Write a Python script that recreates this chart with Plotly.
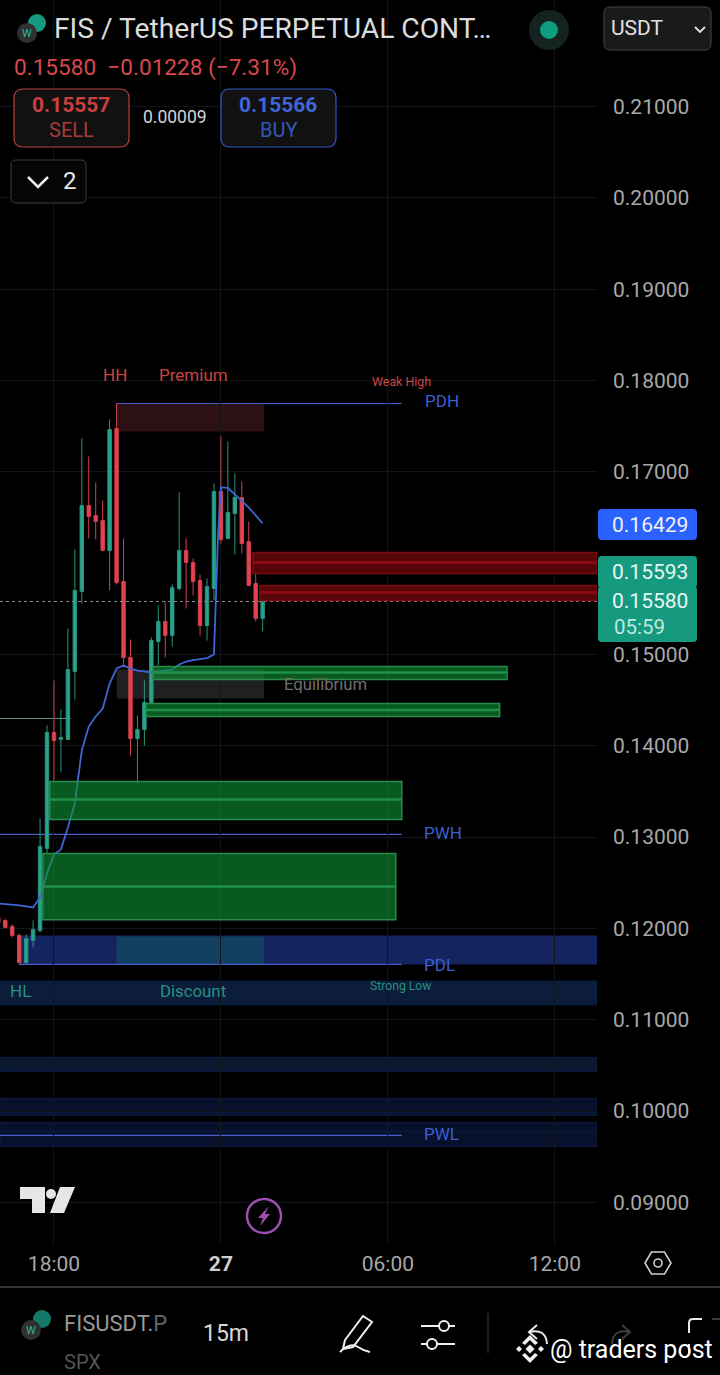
import pandas as pd
import plotly.graph_objects as go

W = 720
H = 1375

# 15m candles, 26th 16:00 to 27th 01:30
candle_times = pd.date_range("2025-01-26 16:00", "2025-01-27 01:30", freq="15min")
opens = [.12121, .12088, .12022, .11923, .11627, .11869, .11978, .12876, .14146, .14069, .14069, .14814,
         .15690, .16631, .16522, .16467, .16139, .17474, .15799, .14967, .14080, .14178, .14474, .15142,
         .15361, .15208, .15722, .16139, .16007, .15810, .15317, .15722, .16785, .16270, .16544, .16719,
         .16237, .15777, .15394]
highs = [.12143, .12099, .12044, .11945, .11934, .12088, .13205, .14222, .14715, .14397, .15284, .16149,
         .17365, .17168, .16883, .16686, .17573, .17748, .16270, .15164, .14332, .14715, .15186, .15536,
         .15580, .15766, .16774, .16270, .16051, .15876, .15832, .16872, .17387, .17332, .16982, .16894,
         .16456, .15887, .15591]
lows = [.12044, .12000, .11902, .11606, .11616, .11792, .11956, .12821, .13621, .13708, .14064, .14507,
        .15558, .16270, .16259, .16128, .15701, .15766, .14857, .13894, .13588, .14003, .14463, .14879,
        .14967, .15087, .15701, .15503, .15646, .15208, .15153, .15591, .16215, .16270, .16095, .16106,
        .15755, .15361, .15252]
closes = [.12066, .12011, .11923, .11627, .11890, .11989, .12898, .14146, .14058, .14091, .14835, .15701,
          .16631, .16511, .16456, .16139, .17463, .15788, .14967, .14080, .14178, .14474, .15153, .15361,
          .15208, .15733, .16139, .16007, .15799, .15317, .15744, .16785, .16259, .16555, .16719, .16215,
          .15755, .15394, .15591]

ma_times = list(candle_times[:32]) + [pd.Timestamp("2025-01-26 23:49"), pd.Timestamp("2025-01-26 23:54")] + list(candle_times[32:])
ma_values = [.12274, .12268, .12263, .12252, .12241, .12230, .12340, .12603, .12811, .12866, .13106, .13369,
             .13949, .14211, .14321, .14408, .14682, .14846, .14879, .14846, .14824, .14814, .14803, .14814,
             .14824, .14835, .14890, .14923, .14939, .14950, .14961, .15000, .15591, .16325, .16829, .16823,
             .16752, .16686, .16610, .16522, .16434]

axis_start = "2025-01-26 16:03:36"
axis_end = "2025-01-27 13:31"
y_ticks = [.09, .10, .11, .12, .13, .14, .15, .17, .18, .19, .20, .21]
x_ticks = ["2025-01-26 18:00", "2025-01-27 00:00", "2025-01-27 06:00", "2025-01-27 12:00"]
x_labels = ["18:00", '<span style="color:#d0d0d0"><b>27</b></span>', "06:00", "12:00"]
last_price = .15580

# supply zones
supply_starts = ["2025-01-27 01:09", "2025-01-27 01:24"]
supply_tops = [.16117, .15755]
supply_mids = [.16007, .15679]
supply_bottoms = [.15887, .15591]

# demand zones
demand_starts = ["2025-01-26 17:51", "2025-01-26 17:36", "2025-01-26 21:33", "2025-01-26 21:18"]
demand_ends = ["2025-01-27 06:30", "2025-01-27 06:17", "2025-01-27 10:17", "2025-01-27 10:01"]
demand_tops = [.13610, .12821, .14868, .14463]
demand_mids = [.13413, .12460, .14803, .14392]
demand_bottoms = [.13194, .12094, .14726, .14321]

# blue bands under the price
band_tops = [.10588, .10139, .09876]
band_bottoms = [.10434, .09953, .09613]
band_colors = ["#09172f", "#07112c", "#07112c"]

levels = [.17748, .13030, .11606, .09734]
level_starts = ["2025-01-26 20:15", axis_start, "2025-01-26 16:45", axis_start]
level_end = "2025-01-27 06:30"


def px(x):
    return x / W


def py(y):
    return 1 - y / H


def path(points, close=True):
    s = "M " + " L ".join(f"{px(a):.5f},{py(b):.5f}" for a, b in points)
    return s + " Z" if close else s


def rounded(x0, y0, x1, y1, r):
    c = lambda a, b: f"{px(a):.5f},{py(b):.5f}"
    return (f"M {c(x0 + r, y0)} L {c(x1 - r, y0)} Q {c(x1, y0)} {c(x1, y0 + r)} L {c(x1, y1 - r)} "
            f"Q {c(x1, y1)} {c(x1 - r, y1)} L {c(x0 + r, y1)} Q {c(x0, y1)} {c(x0, y1 - r)} "
            f"L {c(x0, y0 + r)} Q {c(x0, y0)} {c(x0 + r, y0)} Z")


fig = go.Figure()

fig.add_trace(go.Candlestick(x=candle_times, open=opens, high=highs, low=lows, close=closes,
                             increasing=dict(line=dict(color="#2a957f", width=1), fillcolor="#26a48c"),
                             decreasing=dict(line=dict(color="#cf424e", width=1), fillcolor="#e8414f"),
                             whiskerwidth=0, showlegend=False))
fig.add_trace(go.Scatter(x=ma_times, y=ma_values, mode="lines", line=dict(color="#3f66d6", width=1.8), showlegend=False))


def box(x0, x1, top, bottom, fill, line=None, width=0, layer="below"):
    fig.add_shape(type="rect", xref="x", yref="y", x0=x0, x1=x1, y0=bottom, y1=top, fillcolor=fill,
                  line=dict(color=line or fill, width=width), layer=layer)


def hline(x0, x1, y, color, width=1, dash="solid", layer="below"):
    fig.add_shape(type="line", xref="x", yref="y", x0=x0, x1=x1, y0=y, y1=y,
                  line=dict(color=color, width=width, dash=dash), layer=layer)


# bands
box("2025-01-26 16:45", axis_end, .11923, .11606, "#14245e")
box("2025-01-26 20:15", "2025-01-27 01:33", .11912, .11606, "#124060")
box(axis_start, axis_end, .11431, .11157, "#0b1d3a")
for top, bottom, color in zip(band_tops, band_bottoms, band_colors):
    box(axis_start, axis_end, top, bottom, color, "#0e1c46", 1)
hline(axis_start, axis_end, .09980, "#0e1c46")
hline(axis_start, axis_end, .09778, "#0e1c46")

box("2025-01-26 20:15", "2025-01-27 01:33", .17748, .17442, "#2d1013")
box("2025-01-26 20:15", "2025-01-27 01:33", .14835, .14518, "#202022")

hline(axis_start, "2025-01-26 18:36", .14299, "#5f8f80")
for start, y in zip(level_starts, levels):
    hline(start, level_end, y, "#4a5fc8", 1.2)
hline(axis_start, axis_end, last_price, "#8c8c8c", 1, "dot", "above")

for i in range(len(demand_tops)):
    box(demand_starts[i], demand_ends[i], demand_tops[i], demand_bottoms[i], "rgba(14,150,55,0.6)", "#2c8a4c", 1.5, "above")
    hline(demand_starts[i], demand_ends[i], demand_mids[i], "#1f9048", 2.5, layer="above")
for i in range(len(supply_tops)):
    box(supply_starts[i], axis_end, supply_tops[i], supply_bottoms[i], "#560608", "#7a0a10", 1.5, "above")
    hline(supply_starts[i], axis_end, supply_mids[i], "#8a0a12", 3, layer="above")


def note(x, y, text, size, color):
    fig.add_annotation(x=x, y=y, xref="x", yref="y", text=text, showarrow=False, font=dict(size=size, color=color))


note("2025-01-26 20:12", .18055, "HH", 17, "#cc4440")
note("2025-01-26 23:00", .18055, "Premium", 17, "#cc4440")
note("2025-01-27 06:30", .17989, "Weak High", 12.4, "#cc4440")
note("2025-01-27 07:56", .17770, "PDH", 17, "#3c5fd1")
note("2025-01-27 03:46", .14671, "Equilibrium", 16.7, "#6f6f6f")
note("2025-01-27 07:59", .13041, "PWH", 17, "#3c5fd1")
note("2025-01-27 07:52", .11595, "PDL", 17, "#3c5fd1")
note("2025-01-26 16:47", .11311, "HL", 17, "#2a8f7f")
note("2025-01-26 23:00", .11311, "Discount", 16.8, "#2a8f7f")
note("2025-01-27 06:28", .11366, "Strong Low", 12.2, "#2a8f7f")
note("2025-01-27 07:56", .09745, "PWL", 17, "#3c5fd1")


# everything below here is app chrome, placed in window pixels
def label(x, y, text, size, color, anchor="left"):
    fig.add_annotation(x=px(x), y=py(y), xref="paper", yref="paper", text=text, showarrow=False, xanchor=anchor,
                       yanchor="middle", font=dict(size=size, color=color), borderpad=0)


def shape_path(d, fill="rgba(0,0,0,0)", line="rgba(0,0,0,0)", width=1):
    fig.add_shape(type="path", xref="paper", yref="paper", path=d, fillcolor=fill, line=dict(color=line, width=width), layer="above")


def circle(x, y, r, fill="rgba(0,0,0,0)", line="rgba(0,0,0,0)", width=1):
    fig.add_shape(type="circle", xref="paper", yref="paper", x0=px(x - r), x1=px(x + r), y0=py(y + r), y1=py(y - r),
                  fillcolor=fill, line=dict(color=line, width=width), layer="above")


# header
circle(37, 23, 9, "#159a80")
circle(27, 33, 10, "#2e3130")
label(27, 33, "W", 11, "#2fb79f", "center")
label(53, 29, "FIS / TetherUS PERPETUAL CONT…", 28.2, "#dcdcdc")
label(13, 67, "0.15580  −0.01228 (−7.31%)", 22.6, "#d9474c")
shape_path(rounded(14, 89, 129, 147, 9), "#111111", "#b5403f", 1.2)
label(71, 105, "<b>0.15557</b>", 21, "#c8403f", "center")
label(71, 130, "SELL", 20, "#a83a38", "center")
label(175, 117, "0.00009", 17.5, "#d5d5d5", "center")
shape_path(rounded(221, 89, 336, 147, 9), "#111111", "#3159c8", 1.2)
label(278, 105, "<b>0.15566</b>", 21, "#3f66d6", "center")
label(278, 130, "BUY", 20, "#3159b8", "center")
shape_path(rounded(11, 160, 86, 203, 5), "#060606", "#3c3c3c", 1)
shape_path(path([(28, 177), (38, 187), (48, 177)], False), line="#f0f0f0", width=2.5)
label(70, 181, "2", 24, "#e8e8e8", "center")
circle(549, 30, 20, "#14231f")
circle(549, 30, 9, "#0f9d82")
shape_path(rounded(604, 7, 711, 50, 6), "#1a1a1a", "#444444", 1)
label(610, 28, "USDT", 21, "#e0e0e0")
shape_path(path([(695, 27), (700, 32), (705, 27)], False), line="#e0e0e0", width=1.8)

# price tags
shape_path(rounded(598, 509, 697, 540, 4), "#2962ff")
label(689, 525, "0.16429", 21, "#f2f2f2", "right")
shape_path(rounded(598, 556, 697, 588, 4), "#159a80")
shape_path(rounded(598, 586, 697, 642, 4), "#159a80")
label(689, 572, "0.15593", 21, "#e8f6f2", "right")
label(689, 601, "0.15580", 21, "#e8f6f2", "right")
label(613, 627, "05:59", 20.5, "#bfe9de")

# tradingview logo
shape_path(path([(20, 1187), (45, 1187), (45, 1213), (32, 1213), (32, 1199), (20, 1199)]), "#e6e6e6")
circle(51, 1194, 5, "#e6e6e6")
shape_path(path([(60, 1187), (75, 1187), (64, 1213), (50, 1213)]), "#e6e6e6")

# lightning badge
circle(264, 1216, 17, line="#9b4fb0", width=2.5)
shape_path(path([(269, 1206), (258, 1218), (263, 1218), (260, 1226), (270, 1214), (265, 1214)]), "#9b4fb0")

# settings hexagon
shape_path(path([(645, 1263), (651.5, 1252), (664.5, 1252), (671, 1263), (664.5, 1274), (651.5, 1274)]), line="#cfcfcf", width=1.6)
circle(658, 1263, 4, line="#cfcfcf", width=1.6)

# bottom bar
shape_path(path([(0, 1287), (720, 1287)], False), line="#333333", width=2)
circle(42, 1319, 9, "#137a68")
circle(31, 1330, 10, "#2e3130")
label(31, 1330, "W", 11, "#2fb79f", "center")
label(63, 1323, 'FISUSDT.<span style="color:#666666">P</span>', 22, "#9a9a9a")
label(63, 1362, "SPX", 20, "#555555")
label(226, 1333, "15m", 23, "#d8d8d8", "center")

shape_path(path([(345, 1340), (363, 1316), (372, 1322), (353, 1347), (343, 1349)]), line="#f0f0f0", width=2)
fig.add_shape(type="path", xref="paper", yref="paper", layer="above", line=dict(color="#f0f0f0", width=2),
              path=f"M {px(340)},{py(1352)} Q {px(350)},{py(1342)} {px(358)},{py(1347)} Q {px(364)},{py(1351)} {px(370)},{py(1352)}")
shape_path(path([(421, 1326), (439, 1326)], False), line="#f0f0f0", width=2)
shape_path(path([(449, 1326), (455, 1326)], False), line="#f0f0f0", width=2)
circle(444, 1326, 5, line="#f0f0f0", width=2)
shape_path(path([(421, 1344), (427, 1344)], False), line="#f0f0f0", width=2)
shape_path(path([(437, 1344), (455, 1344)], False), line="#f0f0f0", width=2)
circle(432, 1344, 5, line="#f0f0f0", width=2)
shape_path(path([(488, 1313), (488, 1353)], False), line="#2a2a2a", width=1.5)

# undo / redo / fullscreen
fig.add_shape(type="path", xref="paper", yref="paper", layer="above", line=dict(color="#e8e8e8", width=2),
              path=f"M {px(537)},{py(1325)} L {px(529)},{py(1332)} L {px(537)},{py(1339)} M {px(529)},{py(1332)} Q {px(546)},{py(1328)} {px(547)},{py(1344)}")
fig.add_shape(type="path", xref="paper", yref="paper", layer="above", line=dict(color="#3c3c3c", width=2),
              path=f"M {px(622)},{py(1325)} L {px(630)},{py(1332)} L {px(622)},{py(1339)} M {px(630)},{py(1332)} Q {px(613)},{py(1328)} {px(612)},{py(1344)}")
fig.add_shape(type="path", xref="paper", yref="paper", layer="above", line=dict(color="#e8e8e8", width=2),
              path=f"M {px(689)},{py(1333)} L {px(689)},{py(1323)} Q {px(689)},{py(1319)} {px(693)},{py(1319)} L {px(702)},{py(1319)} M {px(689)},{py(1344)} L {px(689)},{py(1353)}")
shape_path(path([(712, 1319), (720, 1319)], False), line="#3c3c3c", width=2)

# binance mark and watermark
for cx, cy, r in [(530, 1349, 4.5), (519, 1349, 3), (541, 1349, 3)]:
    shape_path(path([(cx - r, cy), (cx, cy - r), (cx + r, cy), (cx, cy + r)]), "#f0f0f0")
shape_path(path([(522, 1343), (530, 1335), (538, 1343), (535, 1345), (530, 1340), (525, 1345)]), "#f0f0f0")
shape_path(path([(522, 1355), (530, 1363), (538, 1355), (535, 1353), (530, 1358), (525, 1353)]), "#f0f0f0")
label(549, 1349, "@ traders post", 25, "#ffffff")

fig.update_layout(
    width=W, height=H, margin=dict(l=0, r=0, t=0, b=0), paper_bgcolor="#000000", plot_bgcolor="#000000",
    font=dict(family="Roboto"), showlegend=False, hovermode=False,
    xaxis=dict(type="date", range=[axis_start, axis_end], domain=[0, 597 / W], rangeslider=dict(visible=False),
               tickmode="array", tickvals=x_ticks, ticktext=x_labels, tickfont=dict(size=21, color="#a8a8a8"),
               ticklabelstandoff=4, showgrid=True, gridcolor="#121417", gridwidth=1, zeroline=False, showline=False, ticks=""),
    yaxis=dict(side="right", range=[.08534, .22166], domain=[1 - 1245 / H, 1], tickmode="array", tickvals=y_ticks,
               tickformat=".5f", tickfont=dict(size=21, color="#a8a8a8"), ticklabelstandoff=15, showgrid=True,
               gridcolor="#121417", gridwidth=1, zeroline=False, showline=False, ticks=""),
)

fig.write_html("out.html", config={"displayModeBar": False},
               post_script="document.body.style.margin='0';document.body.style.background='#000';")
